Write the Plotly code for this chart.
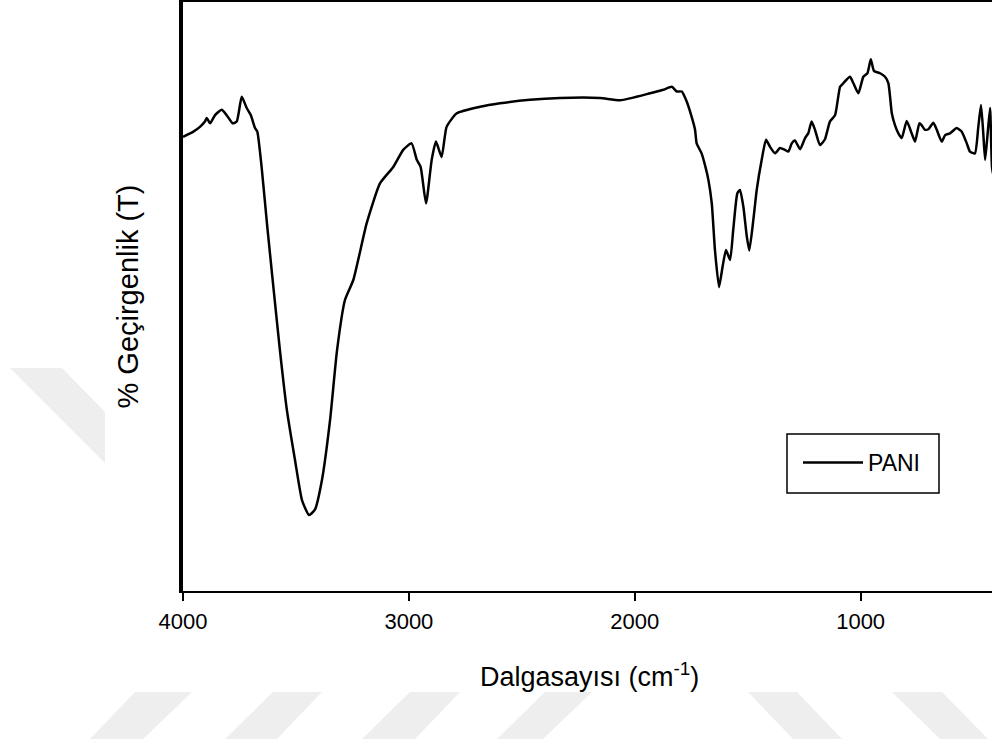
import plotly.graph_objects as go

# FTIR spectrum of PANI: wavenumber (cm^-1) and transmittance (%)
wavenumber = [
    4000, 3954, 3925, 3903, 3895, 3880, 3858, 3829, 3807, 3780, 3762, 3740,
    3718, 3700, 3681, 3671, 3652, 3627, 3603, 3571, 3540, 3504, 3473, 3442,
    3416, 3385, 3349, 3318, 3283, 3246, 3187, 3128, 3069, 3025, 2988, 2965,
    2948, 2924, 2899, 2880, 2855, 2833, 2788, 2685, 2597, 2464, 2331, 2154,
    2065, 1932, 1874, 1836, 1814, 1792, 1770, 1748, 1733, 1726, 1704, 1689,
    1674, 1659, 1645, 1627, 1611, 1596, 1578, 1564, 1546, 1534, 1519, 1504,
    1493, 1475, 1460, 1438, 1419, 1401, 1379, 1357, 1335, 1320, 1305, 1291,
    1268, 1246, 1232, 1217, 1202, 1180, 1158, 1136, 1113, 1091, 1077, 1047,
    1032, 1010, 988, 970, 955, 941, 914, 892, 877, 862, 848, 833, 818, 796,
    774, 759, 740, 730, 715, 700, 678, 663, 641, 626, 604, 575, 553, 530,
    516, 494, 479, 467, 457, 449, 439, 427, 418, 410, 400,
]
transmittance = [
    77.1, 78.0, 78.8, 79.7, 80.3, 79.4, 80.8, 81.7, 80.8, 79.4, 79.7, 83.9,
    82.0, 80.8, 78.6, 78.0, 72.0, 61.9, 52.8, 40.9, 30.7, 22.2, 15.4, 12.9,
    13.8, 18.8, 29.0, 40.9, 49.4, 52.8, 62.4, 69.2, 72.0, 74.9, 76.0, 73.2,
    72.0, 65.8, 73.2, 76.3, 73.7, 78.8, 81.1, 82.2, 82.8, 83.4, 83.7, 83.7,
    83.3, 84.5, 85.1, 85.6, 84.8, 84.8, 83.1, 80.5, 78.3, 76.0, 74.3, 72.3,
    69.8, 65.8, 57.9, 51.6, 55.1, 57.9, 56.2, 61.3, 67.5, 68.1, 65.2, 60.2,
    57.8, 63.0, 68.1, 73.2, 76.6, 75.4, 74.3, 75.2, 74.9, 74.6, 76.0, 76.5,
    75.0, 76.9, 77.7, 79.7, 78.3, 75.7, 76.7, 79.7, 80.8, 85.6, 86.2, 87.3,
    86.2, 84.5, 87.3, 87.9, 90.3, 88.3, 87.9, 87.3, 86.2, 81.1, 79.1, 77.7,
    76.9, 79.8, 77.7, 76.3, 79.4, 79.1, 78.3, 78.4, 79.5, 78.3, 76.3, 77.4,
    77.7, 78.6, 78.0, 76.0, 74.6, 74.3, 78.8, 82.5, 77.7, 73.2, 77.1, 82.0,
    71.8, 70.5, 72.0,
]
series_name = "PANI"
x_ticks = [4000, 3000, 2000, 1000]

FONT = "Liberation Sans, Arial, sans-serif"

# plot box in page pixels
W, H = 992, 744
L, R, T, B = 183, 992, 2, 591


def paper(x, y):
    return (x - L) / (R - L), (B - y) / (B - T)


def poly_path(points):
    pts = [paper(x, y) for x, y in points]
    return "M" + " L".join(f"{px:.4f},{py:.4f}" for px, py in pts) + " Z"


# faint background stripes
stripes = [
    [(10, 368), (62, 368), (105, 412), (105, 463)],
    [(90, 739), (135, 692), (192, 692), (143, 739)],
    [(225, 739), (273, 692), (322, 692), (277, 739)],
    [(362, 739), (410, 692), (460, 692), (415, 739)],
    [(497, 739), (545, 692), (592, 692), (543, 739)],
    [(748, 692), (797, 692), (842, 739), (793, 739)],
    [(892, 692), (942, 692), (988, 739), (940, 739)],
]
shapes = [
    dict(type="path", xref="paper", yref="paper", path=poly_path(s),
         fillcolor="#eeeeee", line=dict(width=0), layer="below")
    for s in stripes
]

# legend frame
bx0, by0 = paper(787, 493)
bx1, by1 = paper(939, 434)
shapes.append(dict(type="rect", xref="paper", yref="paper",
                   x0=bx0, y0=by0, x1=bx1, y1=by1,
                   line=dict(color="black", width=1.5), fillcolor="white",
                   layer="below"))

fig = go.Figure()
fig.add_trace(go.Scatter(
    x=wavenumber, y=transmittance, mode="lines", name=series_name,
    line=dict(color="black", width=2.5, shape="spline", smoothing=0.5),
))

x_lo = 4000 - (R - L) * 4.4272
leg_x, leg_y = paper(798, 441)

fig.update_layout(
    width=W, height=H,
    margin=dict(l=L, r=W - R, t=T, b=H - B),
    paper_bgcolor="white", plot_bgcolor="white",
    font=dict(family=FONT, color="black", size=22),
    showlegend=True,
    legend=dict(
        x=leg_x, y=leg_y, xanchor="left", yanchor="top",
        borderwidth=0, bgcolor="rgba(0,0,0,0)",
        font=dict(family=FONT, size=23, color="black"),
        itemwidth=60,
    ),
    shapes=shapes,
    xaxis=dict(
        range=[4000, x_lo], tickvals=x_ticks, ticktext=[str(v) for v in x_ticks],
        ticks="outside", ticklen=8, tickwidth=1.5, tickcolor="black",
        ticklabelstandoff=2,
        showline=True, linecolor="black", linewidth=1.5, mirror=True,
        showgrid=False, zeroline=False,
        tickfont=dict(family=FONT, size=22, color="black"),
    ),
    yaxis=dict(
        range=[0, 100], showticklabels=False, ticks="",
        showline=True, linecolor="black", linewidth=4, mirror=False,
        showgrid=False, zeroline=False,
        title=dict(text="% Geçirgenlik (T)", standoff=33,
                   font=dict(family=FONT, size=29, color="black")),
    ),
    annotations=[dict(
        x=2200, y=paper(0, 675)[1], xref="x", yref="paper",
        text="Dalgasayısı (cm<sup>-1</sup>)", showarrow=False,
        xanchor="center", yanchor="middle",
        font=dict(family=FONT, size=27, color="black"),
    )],
)

fig.write_html("out.html")
